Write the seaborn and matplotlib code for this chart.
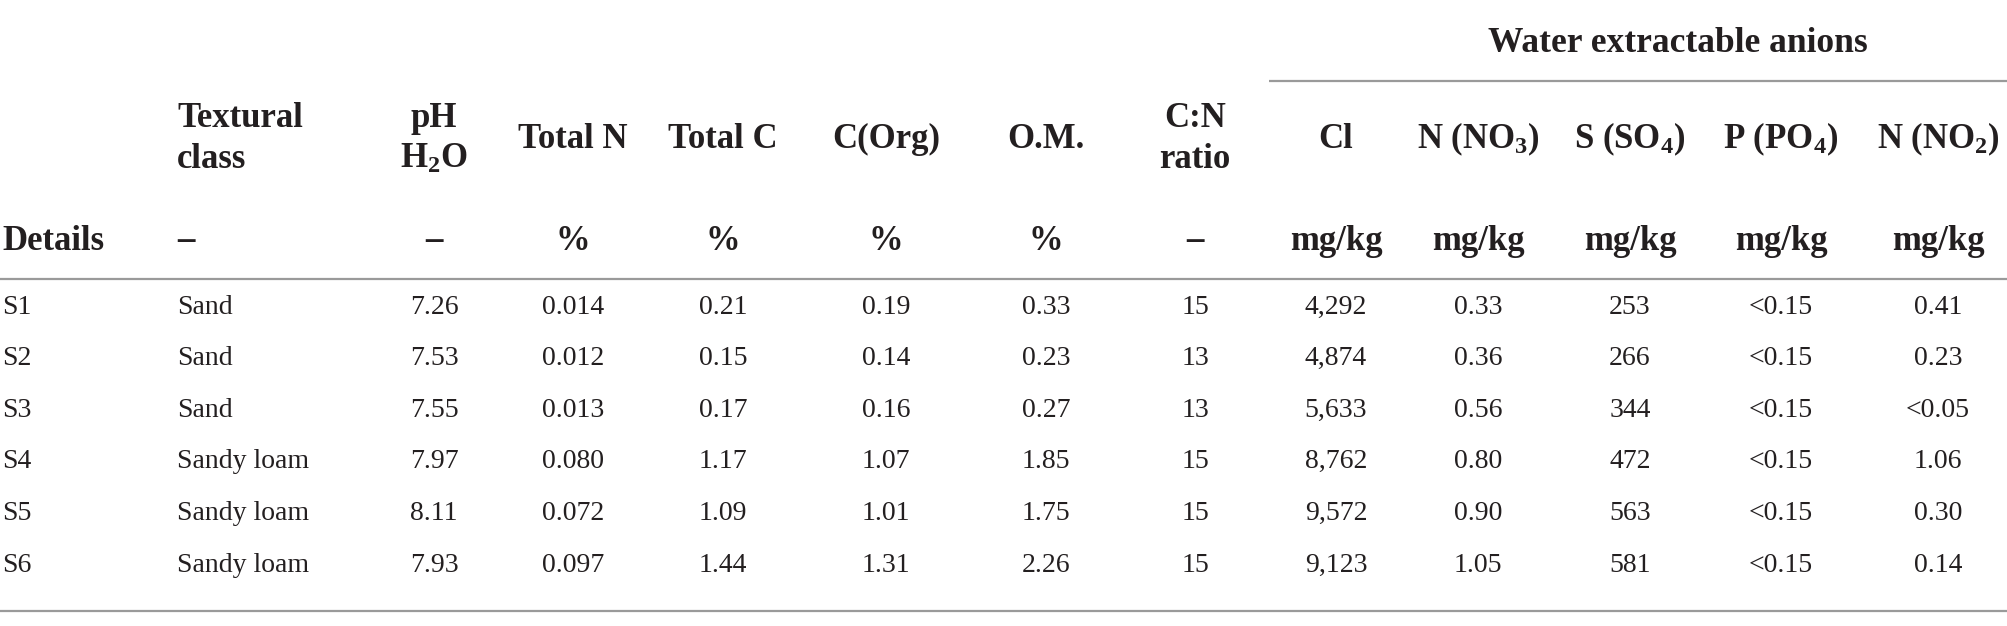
import matplotlib
matplotlib.use("Agg")
import matplotlib.pyplot as plt
import seaborn as sns

# table content
details = ["S1", "S2", "S3", "S4", "S5", "S6"]
textural = ["Sand", "Sand", "Sand", "Sandy loam", "Sandy loam", "Sandy loam"]
ph_h2o = ["7.26", "7.53", "7.55", "7.97", "8.11", "7.93"]
total_n = ["0.014", "0.012", "0.013", "0.080", "0.072", "0.097"]
total_c = ["0.21", "0.15", "0.17", "1.17", "1.09", "1.44"]
c_org = ["0.19", "0.14", "0.16", "1.07", "1.01", "1.31"]
om = ["0.33", "0.23", "0.27", "1.85", "1.75", "2.26"]
cn_ratio = ["15", "13", "13", "15", "15", "15"]
cl = ["4,292", "4,874", "5,633", "8,762", "9,572", "9,123"]
n_no3 = ["0.33", "0.36", "0.56", "0.80", "0.90", "1.05"]
s_so4 = ["253", "266", "344", "472", "563", "581"]
p_po4 = ["<0.15"] * 6
n_no2 = ["0.41", "0.23", "<0.05", "1.06", "0.30", "0.14"]

headers = ["", "Textural\nclass", "pH\nH$_2$O", "Total N", "Total C", "C(Org)", "O.M.",
           "C:N\nratio", "Cl", "N (NO$_3$)", "S (SO$_4$)", "P (PO$_4$)", "N (NO$_2$)"]
units = ["Details", "\u2013", "\u2013", "%", "%", "%", "%", "\u2013",
         "mg/kg", "mg/kg", "mg/kg", "mg/kg", "mg/kg"]
group_title = "Water extractable anions"

columns = [details, textural, ph_h2o, total_n, total_c, c_org, om, cn_ratio,
           cl, n_no3, s_so4, p_po4, n_no2]

sns.set_theme(style="white")
plt.rcParams["font.family"] = ["Liberation Serif", "DejaVu Serif"]
plt.rcParams["mathtext.default"] = "regular"

# layout in pixel coordinates
col_x = [2, 177, 434, 573, 723, 886, 1046, 1195, 1336, 1478, 1630, 1781, 1938]
col_ha = ["left", "left"] + ["center"] * 11
W, H = 2008, 626
txt = "#231f20"
line_c = "#9a9a9a"

fig = plt.figure(figsize=(W / 100, H / 100), dpi=100)
ax = fig.add_axes([0, 0, 1, 1])
ax.set_xlim(0, W)
ax.set_ylim(H, 0)
ax.axis("off")

hsize = 25
dsize = 20

ax.text(1678, 40, group_title, ha="center", va="center_baseline", fontsize=hsize + 0.5,
        fontweight="bold", color=txt)
ax.plot([1269, W], [81, 81], color=line_c, lw=1.6, solid_capstyle="butt")

for x, ha, h, u in zip(col_x, col_ha, headers, units):
    if h:
        ax.text(x, 139, h, ha=ha, va="center", fontsize=hsize, fontweight="bold",
                color=txt, linespacing=1.3, multialignment=ha)
    ax.text(x, 237, u, ha=ha, va="center_baseline", fontsize=hsize, fontweight="bold", color=txt)

ax.plot([0, W], [279, 279], color=line_c, lw=1.6, solid_capstyle="butt")

row_y0 = 304
row_step = 51.6
for x, ha, values in zip(col_x, col_ha, columns):
    for i, v in enumerate(values):
        ax.text(x, row_y0 + i * row_step, v, ha=ha, va="center_baseline",
                fontsize=dsize, color=txt)

ax.plot([0, W], [611, 611], color=line_c, lw=1.6, solid_capstyle="butt")

fig.savefig("out.png", dpi=100, facecolor="white")
